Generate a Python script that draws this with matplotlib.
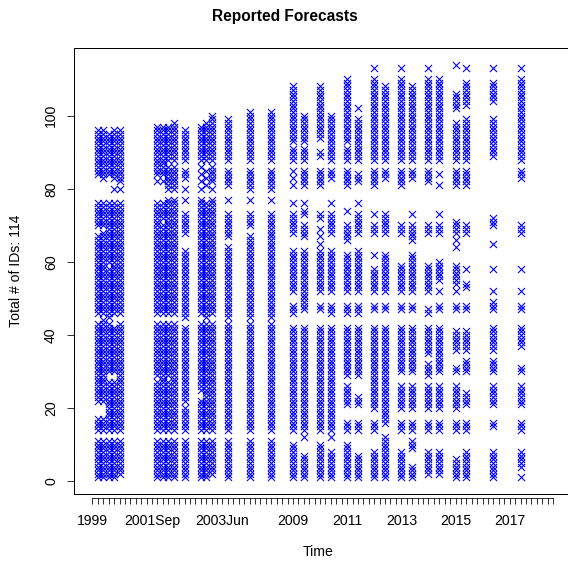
import numpy as np
import matplotlib
matplotlib.use("Agg")
import matplotlib.pyplot as plt
from matplotlib.patches import Rectangle

plt.rcParams.update({
    "font.family": ["Liberation Sans", "DejaVu Sans"],
    "font.size": 14,
})

# x axis: one tick per period, labels only at some of them
N_PERIODS = 86
LABEL_POS = [0, 11, 24, 37, 47, 57, 67, 77]
LABEL_TXT = ["1999", "2001Sep", "2003Jun", "2009", "2011", "2013", "2015", "2017"]

# survey rounds (position on the period axis) and the IDs that reported
SURVEY_POS = [1, 2, 3, 4, 5, 12, 13, 14, 15, 17, 20, 21, 22, 25, 29, 33,
              37, 39, 42, 44, 47, 49, 52, 54, 57, 59, 62, 64, 67, 69, 74, 79]
SURVEY_IDS = [
    "1-11,14-17,22-43,46-67,70-76,84-96",
    "1-11,14-17,22-44,46-68,70-76,83-96",
    "1-11,14-27,30-43,45-58,60-76,84-95",
    "1-11,14-27,30-42,46-76,80,83-96",
    "2-11,14-43,46-76,80,82-96",
    "1-11,14-27,29-43,46-76,82,84-97",
    "1-11,14-43,46-70,72-76,82,84-97",
    "1-11,14-27,29-43,46-76,77,80-86,88-97",
    "1-11,14-43,46-76,77,80-86,88-98",
    "1-11,14-20,22-42,45-63,68-73,77,80,83-85,88-96",
    "1-11,14-22,25-43,46-76,77,80,82,84,86,88-97",
    "1-11,14-43,45-76,81,83,85,88-98",
    "2-11,14-43,46-76,77,80,82-86,88-100",
    "1-11,14-43,45-64,67-73,77,81-85,88-99",
    "1-11,14-43,45-67,70-73,77,80-85,88-101",
    "1-11,14-43,45-73,77,80-85,88-101",
    "1-10,14-42,46-48,52-63,68-73,76,81,83,85,88-91,93-108",
    "1-7,12,14-42,47-63,67-70,73,74,76,81-85,88-91,93-100",
    "1-10,14-42,47,48,52-63,65,67,69,72,73,81-85,89,90,94-108",
    "1-8,12,14-42,46-48,52-63,68-73,76,83-85,88-100",
    "1-10,14-16,21-26,29-42,46-48,52-62,66-70,74,81-85,88-91,93-110",
    "1-7,14-16,21-23,29-42,46-48,52-63,68-73,76,82-84,88-99,102",
    "1-8,14-16,20-42,47,48,52-58,62,68-70,73,81-85,88-110,113",
    "1-12,16-42,47,48,52-62,68-73,83-85,88-108",
    "1-8,14-16,20-26,30-42,47,48,52-59,68-70,81-85,88-110,113",
    "1-4,9-11,14-16,20-26,30-42,47,48,52-62,66-70,73,83-85,88-108",
    "2-8,14-16,20-26,29-32,35-42,46,47,52-59,68-70,82-85,88-110,113",
    "2-8,14-16,20-26,30-42,47,48,52,55-60,68-70,73,81,84,88-110",
    "1-6,14-16,20-26,30,31,36-41,47,48,52,54-59,64,66,68-71,81-85,88-98,102-106,114",
    "1-8,14-16,21-24,30-33,36-41,47,48,53,54,58,68-70,81-85,88-99,103-109,113",
    "1-8,15,16,21-26,30-33,36-42,47-49,52,58,65,70-72,89-99,104-109,113",
    "1,4-8,14-16,21-26,30,31,37-42,47,48,52,58,68-70,83-85,88-110,113",
]
N_IDS = 114


def parse_ids(spec):
    out = []
    for part in spec.split(","):
        if "-" in part:
            a, b = part.split("-")
            out.extend(range(int(a), int(b) + 1))
        else:
            out.append(int(part))
    return out


W, H, DPI = 568, 562, 72
fig = plt.figure(figsize=(W / DPI, H / DPI), dpi=DPI)
# plot region in pixels: left 74, right 571.5 (cut off), top 48, bottom 494
ax = fig.add_axes([74 / W, (H - 494) / H, (571.5 - 74) / W, (494 - 48) / H])

for pos, spec in zip(SURVEY_POS, SURVEY_IDS):
    ids = parse_ids(spec)
    ax.scatter([pos] * len(ids), ids, marker="x", color="blue",
               s=50, linewidths=1.1, zorder=3)

xpad = 0.04 * (N_PERIODS - 1)
ax.set_xlim(-xpad, N_PERIODS - 1 + xpad)
ypad = 0.04 * (N_IDS - 1)
ax.set_ylim(1 - ypad, N_IDS + ypad)

for side in ["left", "right", "top"]:
    ax.spines[side].set_visible(False)
ax.add_patch(Rectangle((0, 0), 1, 1, transform=ax.transAxes, fill=False,
                       lw=1.0, edgecolor="black", clip_on=False, zorder=5))
ax.spines["bottom"].set_position(("outward", 4))
ax.spines["bottom"].set_bounds(0, N_PERIODS - 1)

ticks = list(range(N_PERIODS))
labels = [""] * N_PERIODS
for p, t in zip(LABEL_POS, LABEL_TXT):
    labels[p] = t
ax.set_xticks(ticks)
ax.set_xticklabels(labels)
ax.tick_params(axis="x", direction="out", length=6, width=0.8, pad=10, labelsize=14)

ax.set_yticks([0, 20, 40, 60, 80, 100])
ax.tick_params(axis="y", direction="out", length=7, width=0.8, pad=9,
               labelsize=14, labelrotation=90)
for lab in ax.get_yticklabels():
    lab.set_verticalalignment("center")

fig.text(285 / W, 1 - 16 / H, "Reported Forecasts", ha="center", va="center",
         fontsize=15.5, fontweight="bold")
fig.text(318 / W, 1 - 552 / H, "Time", ha="center", va="center", fontsize=14)
fig.text(16 / W, 1 - 271 / H, "Total # of IDs: 114", ha="center", va="center",
         rotation=90, fontsize=14)

fig.savefig("out.png", dpi=DPI)
